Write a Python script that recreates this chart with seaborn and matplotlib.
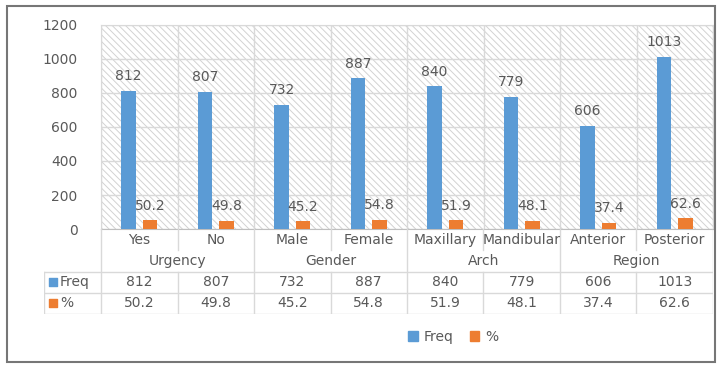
import numpy as np
import pandas as pd
import matplotlib
matplotlib.use('Agg')
import matplotlib.pyplot as plt
from matplotlib.patches import Rectangle, Patch
import seaborn as sb

# chart data
categories = ['Yes', 'No', 'Male', 'Female', 'Maxillary', 'Mandibular', 'Anterior', 'Posterior']
groups     = ['Urgency', 'Gender', 'Arch', 'Region']
freq       = [812, 807, 732, 887, 840, 779, 606, 1013]
pct        = [50.2, 49.8, 45.2, 54.8, 51.9, 48.1, 37.4, 62.6]
series     = ['Freq', '%']
yticks     = [0, 200, 400, 600, 800, 1000, 1200]

blue   = '#5B9BD5'
orange = '#ED7D31'
txt    = '#595959'
grid   = '#D9D9D9'

df = pd.DataFrame({
    'cat': categories * 2,
    'value': freq + pct,
    'series': ['Freq'] * len(freq) + ['%'] * len(pct),
})

plt.rcParams['font.family'] = ['DejaVu Sans']
plt.rcParams['hatch.linewidth'] = 0.7
plt.rcParams['hatch.color'] = '#D2D2D2'

W, H = 722, 369
fig = plt.figure(figsize=(W / 100, H / 100), dpi=100)

# outer chart frame
fig.patches.append(Rectangle((7 / W, 1 - 362 / H), 708 / W, 356 / H, transform=fig.transFigure,
                             fill=False, edgecolor='#767676', lw=1.5))

# bar axes
x0, x1 = 101, 713
ytop, ybot = 25, 229
ax = fig.add_axes([x0 / W, 1 - ybot / H, (x1 - x0) / W, (ybot - ytop) / H])
ax.set_facecolor('white')
ax.add_patch(Rectangle((0, 0), 1, 1, transform=ax.transAxes, facecolor='white',
                       edgecolor='#D2D2D2', hatch='\\\\\\\\\\', lw=0, zorder=0))

sb.barplot(data=df, x='cat', y='value', hue='series', hue_order=series, order=categories,
           palette=[blue, orange], saturation=1, width=0.56, gap=0.32, legend=False,
           ax=ax, zorder=3)

for cont in ax.containers:
    ax.bar_label(cont, fmt='%g', padding=5.5, color=txt, fontsize=10)

ax.set_xlim(-0.5, len(categories) - 0.5)
ax.set_ylim(0, 1200)
ax.set_yticks(yticks)
ax.set_xticks([])
ax.set_xticks(np.arange(-0.5, len(categories), 1), minor=True)
ax.tick_params(axis='both', which='both', length=0, labelsize=10, labelcolor=txt)
ax.tick_params(axis='y', pad=17)
ax.set_xlabel('')
ax.set_ylabel('')
ax.set_axisbelow(True)
ax.grid(axis='y', color=grid, lw=1, zorder=1)
ax.grid(axis='x', which='minor', color=grid, lw=1, zorder=1)
for s in ax.spines.values():
    s.set_color(grid)
ax.spines['bottom'].set_color('#BFBFBF')

# data table under the axis
n = len(categories)
unit = (x1 - x0) / n
tl = 44
left = -0.5 - (x0 - tl) / unit
tb = fig.add_axes([tl / W, 1 - 314 / H, (x1 - tl) / W, 85 / H])
tb.set_xlim(left, n - 0.5)
tb.set_ylim(0, 4)
tb.axis('off')

lk = dict(color=grid, lw=1)
for b in np.arange(-0.5, n, 1):
    if b in (-0.5, n - 0.5) or int(b + 0.5) % 2 == 0:
        tb.plot([b, b], [0, 4], **lk)
    else:
        tb.plot([b, b], [3, 4], **lk)
        tb.plot([b, b], [0, 2], **lk)
for yy in (0, 1, 2):
    tb.plot([left, n - 0.5], [yy, yy], **lk)
tb.plot([left, left], [0, 2], **lk)

tk = dict(ha='center', va='center', color=txt, fontsize=10)
for i, c in enumerate(categories):
    tb.text(i, 3.5, c, **tk)
    tb.text(i, 1.5, '%g' % freq[i], **tk)
    tb.text(i, 0.5, '%g' % pct[i], **tk)
for j, g in enumerate(groups):
    tb.text(2 * j + 0.5, 2.5, g, **tk)

# legend keys inside the table
for yy, name, col in [(1.5, series[0], blue), (0.5, series[1], orange)]:
    tb.scatter([left + 9 / unit], [yy], marker='s', s=36, color=col, clip_on=False)
    tb.text(left + 16 / unit, yy, name, ha='left', va='center', color=txt, fontsize=10)

# legend
handles = [Patch(color=blue, label=series[0]), Patch(color=orange, label=series[1])]
fig.legend(handles=handles, loc='center', bbox_to_anchor=(453 / W, 1 - 337 / H), ncol=2,
           frameon=False, fontsize=10, handlelength=0.7, handleheight=0.7,
           handletextpad=0.4, columnspacing=1.2, labelcolor=txt)

fig.savefig('out.png', dpi=100)
